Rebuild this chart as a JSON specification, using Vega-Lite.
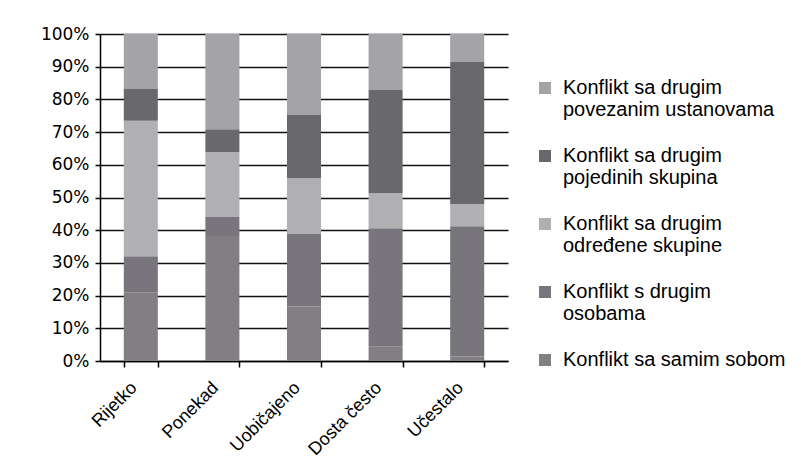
{
  "$schema": "https://vega.github.io/schema/vega-lite/v6.json",
  "width": 408,
  "height": 327,
  "autosize": {"type": "none"},
  "padding": {"left": 100, "top": 34, "right": 293, "bottom": 107},
  "background": "white",
  "data": {
    "values": [
      {"kategorija": "Rijetko", "vrsta": "Konflikt sa samim sobom", "k": 1, "udio": 21.0},
      {"kategorija": "Rijetko", "vrsta": "Konflikt s drugim osobama", "k": 2, "udio": 11.0},
      {"kategorija": "Rijetko", "vrsta": "Konflikt sa drugim određene skupine", "k": 3, "udio": 41.5},
      {"kategorija": "Rijetko", "vrsta": "Konflikt sa drugim pojedinih skupina", "k": 4, "udio": 9.7},
      {"kategorija": "Rijetko", "vrsta": "Konflikt sa drugim povezanim ustanovama", "k": 5, "udio": 16.8},
      {"kategorija": "Ponekad", "vrsta": "Konflikt sa samim sobom", "k": 1, "udio": 38.2},
      {"kategorija": "Ponekad", "vrsta": "Konflikt s drugim osobama", "k": 2, "udio": 5.8},
      {"kategorija": "Ponekad", "vrsta": "Konflikt sa drugim određene skupine", "k": 3, "udio": 19.9},
      {"kategorija": "Ponekad", "vrsta": "Konflikt sa drugim pojedinih skupina", "k": 4, "udio": 7.0},
      {"kategorija": "Ponekad", "vrsta": "Konflikt sa drugim povezanim ustanovama", "k": 5, "udio": 29.1},
      {"kategorija": "Uobičajeno", "vrsta": "Konflikt sa samim sobom", "k": 1, "udio": 16.7},
      {"kategorija": "Uobičajeno", "vrsta": "Konflikt s drugim osobama", "k": 2, "udio": 22.1},
      {"kategorija": "Uobičajeno", "vrsta": "Konflikt sa drugim određene skupine", "k": 3, "udio": 17.1},
      {"kategorija": "Uobičajeno", "vrsta": "Konflikt sa drugim pojedinih skupina", "k": 4, "udio": 19.3},
      {"kategorija": "Uobičajeno", "vrsta": "Konflikt sa drugim povezanim ustanovama", "k": 5, "udio": 24.8},
      {"kategorija": "Dosta često", "vrsta": "Konflikt sa samim sobom", "k": 1, "udio": 4.5},
      {"kategorija": "Dosta često", "vrsta": "Konflikt s drugim osobama", "k": 2, "udio": 36.1},
      {"kategorija": "Dosta često", "vrsta": "Konflikt sa drugim određene skupine", "k": 3, "udio": 10.7},
      {"kategorija": "Dosta često", "vrsta": "Konflikt sa drugim pojedinih skupina", "k": 4, "udio": 31.6},
      {"kategorija": "Dosta često", "vrsta": "Konflikt sa drugim povezanim ustanovama", "k": 5, "udio": 17.1},
      {"kategorija": "Učestalo", "vrsta": "Konflikt sa samim sobom", "k": 1, "udio": 1.4},
      {"kategorija": "Učestalo", "vrsta": "Konflikt s drugim osobama", "k": 2, "udio": 39.8},
      {"kategorija": "Učestalo", "vrsta": "Konflikt sa drugim određene skupine", "k": 3, "udio": 6.8},
      {"kategorija": "Učestalo", "vrsta": "Konflikt sa drugim pojedinih skupina", "k": 4, "udio": 43.4},
      {"kategorija": "Učestalo", "vrsta": "Konflikt sa drugim povezanim ustanovama", "k": 5, "udio": 8.6}
    ]
  },
  "mark": {"type": "bar"},
  "encoding": {
    "x": {
      "field": "kategorija",
      "type": "nominal",
      "sort": ["Rijetko", "Ponekad", "Uobičajeno", "Dosta često", "Učestalo"],
      "scale": {"paddingInner": 0.583, "paddingOuter": 0.2915},
      "axis": {
        "title": null,
        "labelAngle": -45,
        "labelAlign": "right",
        "labelBaseline": "middle",
        "labelFont": "Liberation Sans",
        "labelFontSize": 18,
        "labelColor": "#000",
        "labelPadding": 18,
        "labelOffset": -7,
        "tickBand": "extent",
        "tickSize": 6,
        "tickColor": "#000",
        "tickWidth": 1.5,
        "domainColor": "#000",
        "domainWidth": 1.5,
        "grid": false
      }
    },
    "y": {
      "field": "udio",
      "type": "quantitative",
      "stack": "normalize",
      "scale": {"domain": [0, 1], "nice": false},
      "axis": {
        "title": null,
        "format": ".0%",
        "values": [0, 0.1, 0.2, 0.3, 0.4, 0.5, 0.6, 0.7, 0.8, 0.9, 1],
        "labelFont": "DejaVu Sans",
        "labelFontSize": 17,
        "labelColor": "#000",
        "labelPadding": 6,
        "tickSize": 5,
        "tickColor": "#000",
        "tickWidth": 1.5,
        "domainColor": "#000",
        "domainWidth": 1.5,
        "grid": true,
        "gridColor": "#111",
        "gridWidth": 1.5,
        "gridOpacity": 1
      }
    },
    "color": {
      "field": "vrsta",
      "type": "nominal",
      "scale": {
        "domain": [
          "Konflikt sa drugim povezanim ustanovama",
          "Konflikt sa drugim pojedinih skupina",
          "Konflikt sa drugim određene skupine",
          "Konflikt s drugim osobama",
          "Konflikt sa samim sobom"
        ],
        "range": ["#a4a3a8", "#69686d", "#b0b0b3", "#78767c", "#817f84"]
      },
      "legend": {
        "title": null,
        "orient": "none",
        "legendX": 435,
        "legendY": 44,
        "padding": 0,
        "symbolType": "square",
        "symbolSize": 144,
        "symbolStrokeWidth": 0,
        "labelFont": "Liberation Sans",
        "labelFontSize": 20,
        "labelLineHeight": 20,
        "labelColor": "#000",
        "labelOffset": 8,
        "labelLimit": 300,
        "rowPadding": 26,
        "labelExpr": "indexof(datum.label, 'drugim') >= 0 ? [substring(datum.label, 0, indexof(datum.label, 'drugim') + 6), substring(datum.label, indexof(datum.label, 'drugim') + 7)] : datum.label"
      }
    },
    "order": {"field": "k", "type": "quantitative", "sort": "ascending"}
  },
  "config": {
    "view": {"stroke": null}
  }
}
